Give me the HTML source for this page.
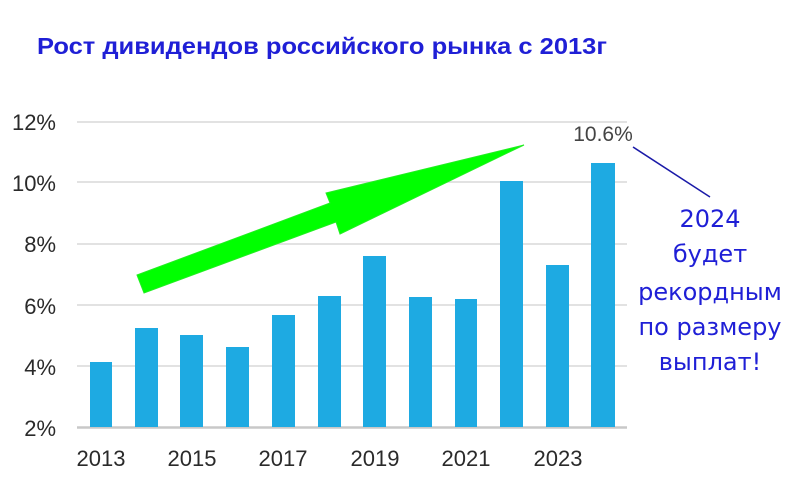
<!DOCTYPE html>
<html><head><meta charset="utf-8"><style>
html,body{margin:0;padding:0;background:#fff;}
svg{display:block;}
</style></head><body>
<svg width="794" height="479" xmlns="http://www.w3.org/2000/svg">
<rect width="794" height="479" fill="#fff"/>
<text x="37" y="54" font-family="Liberation Sans, sans-serif" font-weight="bold" font-size="23" fill="#1f1fd6" textLength="570" lengthAdjust="spacingAndGlyphs">Рост дивидендов российского рынка с 2013г</text>
<g stroke="#d9d9d9" stroke-width="1.5">
<line x1="77" x2="627" y1="122" y2="122"/>
<line x1="77" x2="627" y1="182" y2="182"/>
<line x1="77" x2="627" y1="244" y2="244"/>
<line x1="77" x2="627" y1="305" y2="305"/>
<line x1="77" x2="627" y1="366" y2="366"/>
</g>
<line x1="77" x2="627" y1="427.5" y2="427.5" stroke="#c8c8c8" stroke-width="2.5"/>
<g font-family="Liberation Sans, sans-serif" font-size="22" fill="#2a2a2a" text-anchor="end">
<text x="56" y="130">12%</text>
<text x="56" y="191">10%</text>
<text x="56" y="252">8%</text>
<text x="56" y="314">6%</text>
<text x="56" y="375">4%</text>
<text x="56" y="436">2%</text>
</g>
<g fill="#1eaae2">
<rect x="90" y="362" width="22" height="65"/>
<rect x="135" y="328" width="23" height="99"/>
<rect x="180" y="335" width="23" height="92"/>
<rect x="226" y="347" width="23" height="80"/>
<rect x="272" y="315" width="23" height="112"/>
<rect x="318" y="296" width="23" height="131"/>
<rect x="363" y="256" width="23" height="171"/>
<rect x="409" y="297" width="23" height="130"/>
<rect x="455" y="299" width="22" height="128"/>
<rect x="500" y="181" width="23" height="246"/>
<rect x="546" y="265" width="23" height="162"/>
<rect x="591" y="163" width="24" height="264"/>
</g>
<g font-family="Liberation Sans, sans-serif" font-size="22" fill="#2a2a2a" text-anchor="middle">
<text x="101" y="466">2013</text>
<text x="192" y="466">2015</text>
<text x="283" y="466">2017</text>
<text x="375" y="466">2019</text>
<text x="466" y="466">2021</text>
<text x="558" y="466">2023</text>
</g>
<polygon points="137,275 330,203 326,193 524,145 340,234 336,222 144,293" fill="#00ff00" stroke="#22ee22" stroke-width="1"/>
<text x="603" y="141" font-family="Liberation Sans, sans-serif" font-size="21" fill="#444" text-anchor="middle">10.6%</text>
<line x1="633" y1="147" x2="710" y2="197" stroke="#1a1aa8" stroke-width="1.5"/>
<g font-family="DejaVu Sans, Liberation Sans, sans-serif" font-size="24" fill="#1f1fd6" text-anchor="middle">
<text x="710" y="227">2024</text>
<text x="710" y="262">будет</text>
<text x="710" y="300">рекордным</text>
<text x="710" y="335">по размеру</text>
<text x="710" y="370">выплат!</text>
</g>
</svg>
</body></html>
